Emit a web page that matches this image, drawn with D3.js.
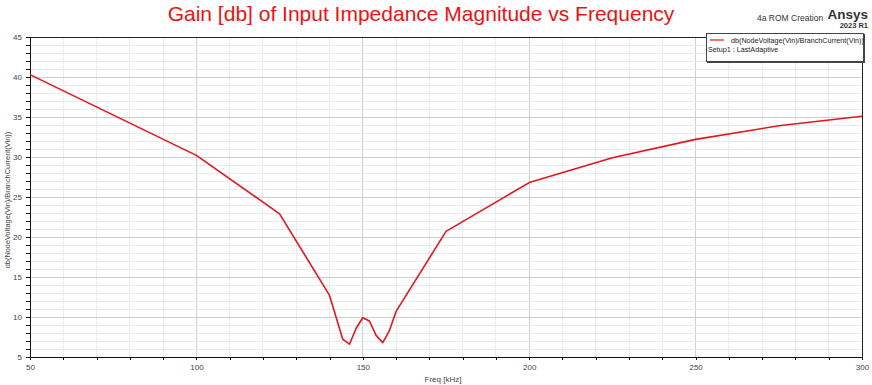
<!DOCTYPE html>
<html><head><meta charset="utf-8">
<script src="https://cdn.jsdelivr.net/npm/d3@7"></script>
<style>body{margin:0;background:#fff;font-family:"Liberation Sans",Arial,sans-serif}</style>
</head><body><svg id="c" width="872" height="385"></svg>
<script>
const freqKHz = [50, 100, 125, 140, 144, 146, 148, 150, 152, 154, 156, 158, 160, 175, 200, 225, 250, 275, 300];
const gainDb  = [40.3, 30.2, 22.9, 12.7, 7.2, 6.6, 8.6, 9.9, 9.5, 7.7, 6.8, 8.3, 10.7, 20.7, 26.8, 29.9, 32.2, 33.9, 35.1];
const xTickLabels = [50, 100, 150, 200, 250, 300];
const yTickLabels = [5, 10, 15, 20, 25, 30, 35, 40, 45];
const titleText = "Gain [db] of Input Impedance Magnitude vs Frequency";
const seriesName = "db(NodeVoltage(Vin)/BranchCurrent(Vin))";
const setupName = "Setup1 : LastAdaptive";

const svg = d3.select("#c");
const L = 30, R = 862, T = 37, B = 357;
const x = d3.scaleLinear().domain([50, 300]).range([L, R]);
const y = d3.scaleLinear().domain([5, 45]).range([B, T]);

// grid
const g = svg.append("g");
g.selectAll(".vx").data(d3.range(60, 300, 10)).enter().append("line")
  .attr("x1", d => x(d)).attr("x2", d => x(d)).attr("y1", T).attr("y2", B)
  .attr("stroke", d => d % 50 === 0 ? "#cfcfcf" : "#ebebeb").attr("stroke-width", 1).attr("shape-rendering", "crispEdges");
g.selectAll(".hy").data(d3.range(6, 45, 1)).enter().append("line")
  .attr("x1", L).attr("x2", R).attr("y1", d => y(d)).attr("y2", d => y(d))
  .attr("stroke", d => d % 5 === 0 ? "#cfcfcf" : "#ebebeb").attr("stroke-width", 1).attr("shape-rendering", "crispEdges");

// frame
svg.append("line").attr("x1", L).attr("x2", R).attr("y1", T).attr("y2", T).attr("stroke", "#222").attr("shape-rendering", "crispEdges");
svg.append("line").attr("x1", R).attr("x2", R).attr("y1", T).attr("y2", B).attr("stroke", "#222").attr("shape-rendering", "crispEdges");

// axes
const xAxis = d3.axisBottom(x).tickValues(d3.range(50, 301, 10)).tickSize(3)
  .tickFormat(d => xTickLabels.includes(d) ? d : "");
const xa = svg.append("g").attr("transform", `translate(0,${B})`).call(xAxis);
xa.select(".domain").attr("stroke", "#111").attr("shape-rendering", "crispEdges");
xa.selectAll(".tick line").attr("stroke", "#111").attr("shape-rendering", "crispEdges");
xa.selectAll(".tick text").attr("font-size", 8).attr("fill", "#444").attr("dy", "0.9em")
  .attr("font-family", "Liberation Sans, Arial, sans-serif");

const yAxis = d3.axisLeft(y).tickValues(d3.range(5, 46, 1)).tickSize(4)
  .tickFormat(d => yTickLabels.includes(d) ? d : "");
const ya = svg.append("g").attr("transform", `translate(${L},0)`).call(yAxis);
ya.select(".domain").attr("stroke", "#111").attr("shape-rendering", "crispEdges");
ya.selectAll(".tick line").attr("stroke", "#111").attr("shape-rendering", "crispEdges");
ya.selectAll(".tick text").attr("font-size", 8).attr("fill", "#444").attr("x", -8)
  .attr("font-family", "Liberation Sans, Arial, sans-serif");

// line
const data = freqKHz.map((f, i) => ({f, v: gainDb[i]}));
svg.append("path").datum(data)
  .attr("d", d3.line().x(d => x(d.f)).y(d => y(d.v)))
  .attr("fill", "none").attr("stroke", "#e8141c").attr("stroke-width", 1.6).attr("stroke-linejoin", "round");

// titles
svg.append("text").attr("x", 421).attr("y", 21).attr("text-anchor", "middle")
  .attr("font-size", 21).attr("fill", "#ee1111").text(titleText);
svg.append("text").attr("x", 757).attr("y", 21).attr("font-size", 8.5).attr("fill", "#333").text("4a  ROM Creation");
svg.append("text").attr("x", 868).attr("y", 19).attr("text-anchor", "end").attr("font-size", 13.5)
  .attr("font-weight", "bold").attr("fill", "#333").text("Ansys");
svg.append("text").attr("x", 868).attr("y", 28).attr("text-anchor", "end").attr("font-size", 7.5)
  .attr("font-weight", "bold").attr("fill", "#333").text("2023 R1");

svg.append("text").attr("x", 443).attr("y", 382).attr("text-anchor", "middle")
  .attr("font-size", 8).attr("fill", "#444").text("Freq [kHz]");
svg.append("text").attr("transform", "translate(10,200) rotate(-90)").attr("text-anchor", "middle")
  .attr("font-size", 7.4).attr("fill", "#444").text(seriesName);

// legend
const lg = svg.append("g");
lg.append("rect").attr("x", 707).attr("y", 34).attr("width", 158).attr("height", 29).attr("fill", "#444");
lg.append("rect").attr("x", 706.5).attr("y", 33.5).attr("width", 157).attr("height", 28).attr("fill", "#fff")
  .attr("stroke", "#444").attr("stroke-width", 1);
lg.append("line").attr("x1", 710).attr("x2", 724).attr("y1", 40).attr("y2", 40).attr("stroke", "#e8141c").attr("stroke-width", 1.2);
lg.append("text").attr("x", 731).attr("y", 43).attr("font-size", 7.2).attr("fill", "#222").text(seriesName);
lg.append("text").attr("x", 708).attr("y", 52).attr("font-size", 7.2).attr("fill", "#222").text(setupName);
</script></body></html>
